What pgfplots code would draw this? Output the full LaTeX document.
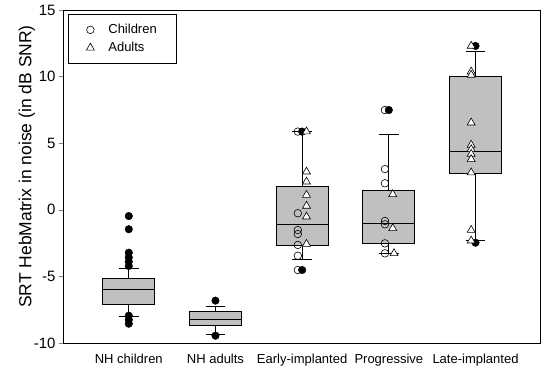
\documentclass[border=0pt]{standalone}
\usepackage{pgfplots}
\pgfplotsset{compat=1.18}
\usepgfplotslibrary{statistics}
\usetikzlibrary{calc}
\usepackage{fontspec}
\setmainfont{Liberation Sans}
\definecolor{boxgray}{RGB}{192,192,192}
\begin{document}
\begin{tikzpicture}
\begin{axis}[
  scale only axis,
  width=477pt, height=333pt,
  xmin=0.241, xmax=5.744,
  ymin=-10, ymax=15,
  boxplot/draw direction=y,
  ytick={-10,-5,0,5,10,15},
  ytick pos=left,
  tick align=outside,
  major tick length=4pt,
  xtick={1,2,3,4,5},
  xticklabels={NH children,NH adults,Early-implanted,Progressive,Late-implanted},
  x tick style={draw=none},
  /pgf/number format/assume math mode=true,
  yticklabel style={font=\fontsize{15}{15}\selectfont},
  xticklabel style={font=\fontsize{13}{13}\selectfont, yshift=-4pt},
  ylabel={SRT HebMatrix in noise (in dB SNR)},
  ylabel style={font=\fontsize{17.5}{17.5}\selectfont, yshift=-8pt, xshift=10pt},
  axis line style={black, line width=0.8pt},
  legend style={at={(0.0105,0.988)}, anchor=north west, draw=black, line width=0.8pt,
    font=\fontsize{13}{13}\selectfont, inner xsep=18pt, inner ysep=8pt, row sep=3pt,
    column sep=12pt},
  legend cell align=left,
]
% boxes
\addplot[forget plot, draw=black, fill=boxgray, line width=0.7pt,
  boxplot prepared={draw position=1, median=-5.95, upper quartile=-5.14, lower quartile=-7.12,
  upper whisker=-4.39, lower whisker=-8.02, box extend=0.6, whisker extend=0.23}] coordinates {};
\addplot[forget plot, draw=black, fill=boxgray, line width=0.7pt,
  boxplot prepared={draw position=2, median=-8.22, upper quartile=-7.65, lower quartile=-8.70,
  upper whisker=-7.27, lower whisker=-9.35, box extend=0.6, whisker extend=0.23}] coordinates {};
\addplot[forget plot, draw=black, fill=boxgray, line width=0.7pt,
  boxplot prepared={draw position=3, median=-1.09, upper quartile=1.73, lower quartile=-2.64,
  upper whisker=5.87, lower whisker=-3.72, box extend=0.6, whisker extend=0.23}] coordinates {};
\addplot[forget plot, draw=black, fill=boxgray, line width=0.7pt,
  boxplot prepared={draw position=4, median=-1.01, upper quartile=1.49, lower quartile=-2.52,
  upper whisker=5.69, lower whisker=-3.27, box extend=0.6, whisker extend=0.23}] coordinates {};
\addplot[forget plot, draw=black, fill=boxgray, line width=0.7pt,
  boxplot prepared={draw position=5, median=4.36, upper quartile=10.05, lower quartile=2.74,
  upper whisker=11.87, lower whisker=-2.32, box extend=0.6, whisker extend=0.23}] coordinates {};
% outliers
\addplot[forget plot, only marks, mark=*, mark size=3.8pt, black] coordinates {
  (1,-0.47) (1,-1.46) (1,-3.22) (1,-3.57) (1,-3.90) (1,-4.22) (1,-7.95) (1,-8.25) (1,-8.55)
  (2,-6.82) (2,-9.45)
  (3,5.87) (3,-4.52)
  (4,7.49)
  (5,12.3) (5,-2.47)
};
% children
\addplot[only marks, mark=o, mark size=3.8pt, mark options={fill=white, draw=black, line width=0.6pt}] coordinates {
  (2.95,5.87) (2.95,-0.26) (2.95,-1.52) (2.95,-1.82) (2.95,-2.64) (2.95,-3.45) (2.95,-4.52)
  (3.955,7.49) (3.955,3.06) (3.955,1.99) (3.955,-0.84) (3.955,-1.09) (3.955,-2.52) (3.955,-3.27)
};
\addlegendentry{Children}
% adults
\addplot[only marks, mark=triangle*, mark size=4.6pt, mark options={fill=white, draw=black, line width=0.6pt}] coordinates {
  (3.05,5.87) (3.05,2.86) (3.05,2.11) (3.05,1.11) (3.05,0.29) (3.05,-0.52) (3.05,-2.57)
  (4.045,1.16) (4.045,-1.39) (4.06,-3.27)
  (4.95,12.3) (4.95,10.37) (4.95,10.12) (4.95,6.54) (4.95,4.87) (4.95,4.54) (4.95,4.19)
  (4.95,3.79) (4.95,2.79) (4.95,-1.52) (4.95,-2.32)
};
\addlegendentry{Adults}
\end{axis}
\pgfresetboundingbox
\path ($(current axis.south west)+(-63pt,-28pt)$) rectangle ($(current axis.north east)+(10pt,10pt)$);
\end{tikzpicture}
\end{document}
